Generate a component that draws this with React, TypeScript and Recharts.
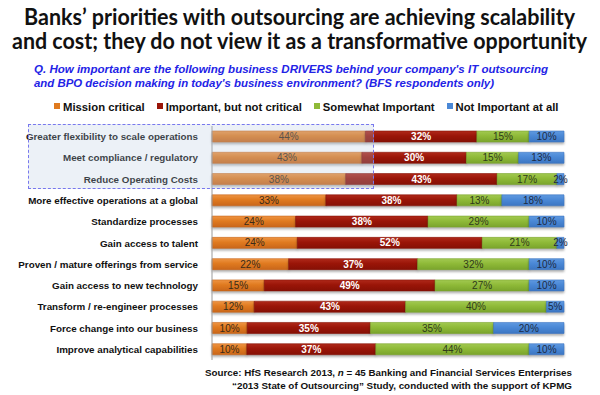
import React from "react";
import { BarChart, Bar, XAxis, YAxis, LabelList } from "recharts";

const categories = [
  "Greater flexibility to scale operations",
  "Meet compliance / regulatory",
  "Reduce Operating Costs",
  "More effective operations at a global",
  "Standardize processes",
  "Gain access to talent",
  "Proven / mature offerings from service",
  "Gain access to new technology",
  "Transform / re-engineer processes",
  "Force change into our business",
  "Improve analytical capabilities",
];
const missionCritical = [44, 43, 38, 33, 24, 24, 22, 15, 12, 10, 10];
const importantNotCritical = [32, 30, 43, 38, 38, 52, 37, 49, 43, 35, 37];
const somewhatImportant = [15, 15, 17, 13, 29, 21, 32, 27, 40, 35, 44];
const notImportant = [10, 13, 2, 18, 10, 2, 10, 10, 5, 20, 10];

const seriesNames = ["Mission critical", "Important, but not critical", "Somewhat Important", "Not Important at all"];
const seriesKeys = ["mission", "important", "somewhat", "notImp"];
const seriesColors = ["#e07a1f", "#9a1508", "#8fba38", "#4a88d6"];
const gradTop = ["#ee9443", "#b0291a", "#a2c951", "#5f99e0"];
const gradBottom = ["#c9661a", "#861005", "#7aa42c", "#3c76c2"];
const labelColors = ["#3a2a18", "#ffffff", "#2f3a1a", "#1c2a44"];

const data = categories.map((name, i) => ({
  name,
  mission: missionCritical[i],
  important: importantNotCritical[i],
  somewhat: somewhatImportant[i],
  notImp: notImportant[i],
}));

const FONT = "'Liberation Sans', Arial, sans-serif";

const CatTick = (props: any) => {
  const { x, y, payload } = props;
  return (
    <text x={x} y={y} dy={3.5} textAnchor="end" fontFamily={FONT} fontWeight="bold" fontSize={9.8} fill="#111">
      {payload.value}
    </text>
  );
};

const makeLabel = (idx: number) => (props: any) => {
  const { x, y, width, height, value } = props;
  return (
    <text
      x={Number(x) + Number(width) / 2}
      y={Number(y) + Number(height) / 2}
      dy={3.6}
      textAnchor="middle"
      fontFamily={FONT}
      fontSize={10}
      fontWeight={idx === 1 ? "bold" : "normal"}
      fill={labelColors[idx]}
    >
      {value}%
    </text>
  );
};

export default function App() {
  return (
    <div style={{ position: "relative", width: 600, height: 395, background: "#fff", overflow: "hidden" }}>
      <style>{`body{margin:0} .recharts-bar-rectangle path{filter:drop-shadow(0px 2px 1px rgba(0,0,0,0.3));}`}</style>
      <svg width={600} height={100} style={{ position: "absolute", left: 0, top: 0 }}>
        <text x={299.5} y={25} textAnchor="middle" fontFamily="Lato, 'Open Sans', sans-serif" fontWeight="bold" fontSize={22} fill="#111" textLength={551} lengthAdjust="spacingAndGlyphs">
          Banks’ priorities with outsourcing are achieving scalability
        </text>
        <text x={299.5} y={49} textAnchor="middle" fontFamily="Lato, 'Open Sans', sans-serif" fontWeight="bold" fontSize={22} fill="#111" textLength={575} lengthAdjust="spacingAndGlyphs">
          and cost; they do not view it as a transformative opportunity
        </text>
        <text x={34} y={73} fontFamily={FONT} fontWeight="bold" fontStyle="italic" fontSize={11} fill="#2323e6" textLength={514} lengthAdjust="spacingAndGlyphs">
          Q. How important are the following business DRIVERS behind your company's IT outsourcing
        </text>
        <text x={34} y={87} fontFamily={FONT} fontWeight="bold" fontStyle="italic" fontSize={11} fill="#2323e6" textLength={460} lengthAdjust="spacingAndGlyphs">
          and BPO decision making in today's business environment? (BFS respondents only)
        </text>
      </svg>
      <div
        style={{
          position: "absolute",
          left: 0,
          top: 100,
          width: 600,
          paddingLeft: 54,
          boxSizing: "border-box",
          display: "flex",
          justifyContent: "flex-start",
          gap: 12,
          fontFamily: FONT,
          fontWeight: "bold",
          fontSize: 11.3,
          color: "#111",
          lineHeight: "14px",
        }}
      >
        {seriesNames.map((n, i) => (
          <div key={n} style={{ display: "flex", alignItems: "center" }}>
            <span style={{ display: "inline-block", width: 6, height: 6, background: seriesColors[i], marginRight: 3, marginTop: -3 }} />
            <span>{n}</span>
          </div>
        ))}
      </div>
      <div style={{ position: "absolute", left: 0, top: 0 }}>
        <BarChart
          width={600}
          height={395}
          data={data}
          layout="vertical"
          stackOffset="expand"
          barSize={11}
          margin={{ top: 126, right: 36, bottom: 35, left: 0 }}
        >
          <defs>
            {seriesKeys.map((k, i) => (
              <linearGradient key={k} id={`g-${k}`} x1="0" y1="0" x2="0" y2="1">
                <stop offset="0%" stopColor={gradTop[i]} />
                <stop offset="45%" stopColor={seriesColors[i]} />
                <stop offset="100%" stopColor={gradBottom[i]} />
              </linearGradient>
            ))}
          </defs>
          <XAxis type="number" hide domain={[0, 1]} />
          <YAxis
            type="category"
            dataKey="name"
            width={212}
            interval={0}
            tickLine={false}
            axisLine={{ stroke: "#9a9a9a" }}
            tickMargin={8}
            tick={<CatTick />}
          />
          {seriesKeys.map((k, i) => (
            <Bar key={k} dataKey={k} name={seriesNames[i]} stackId="a" fill={`url(#g-${k})`} stroke={gradBottom[i]} strokeWidth={0.6} isAnimationActive={false}>
              <LabelList dataKey={k} content={makeLabel(i)} />
            </Bar>
          ))}
        </BarChart>
      </div>
      <div
        style={{
          position: "absolute",
          left: 28,
          top: 124,
          width: 346,
          height: 65,
          boxSizing: "border-box",
          border: "1.5px dashed #7878ee",
          background: "rgba(180,200,225,0.26)",
          pointerEvents: "none",
        }}
      />
      <svg width={600} height={40} style={{ position: "absolute", left: 0, top: 362 }}>
        <text x={572} y={14} textAnchor="end" fontFamily={FONT} fontWeight="bold" fontSize={9.8} fill="#111" textLength={367} lengthAdjust="spacingAndGlyphs">
          Source: HfS Research 2013, <tspan fontStyle="italic">n</tspan> = 45 Banking and Financial Services Enterprises
        </text>
        <text x={572} y={27} textAnchor="end" fontFamily={FONT} fontWeight="bold" fontSize={9.8} fill="#111" textLength={340} lengthAdjust="spacingAndGlyphs">
          “2013 State of Outsourcing” Study, conducted with the support of KPMG
        </text>
      </svg>
    </div>
  );
}
